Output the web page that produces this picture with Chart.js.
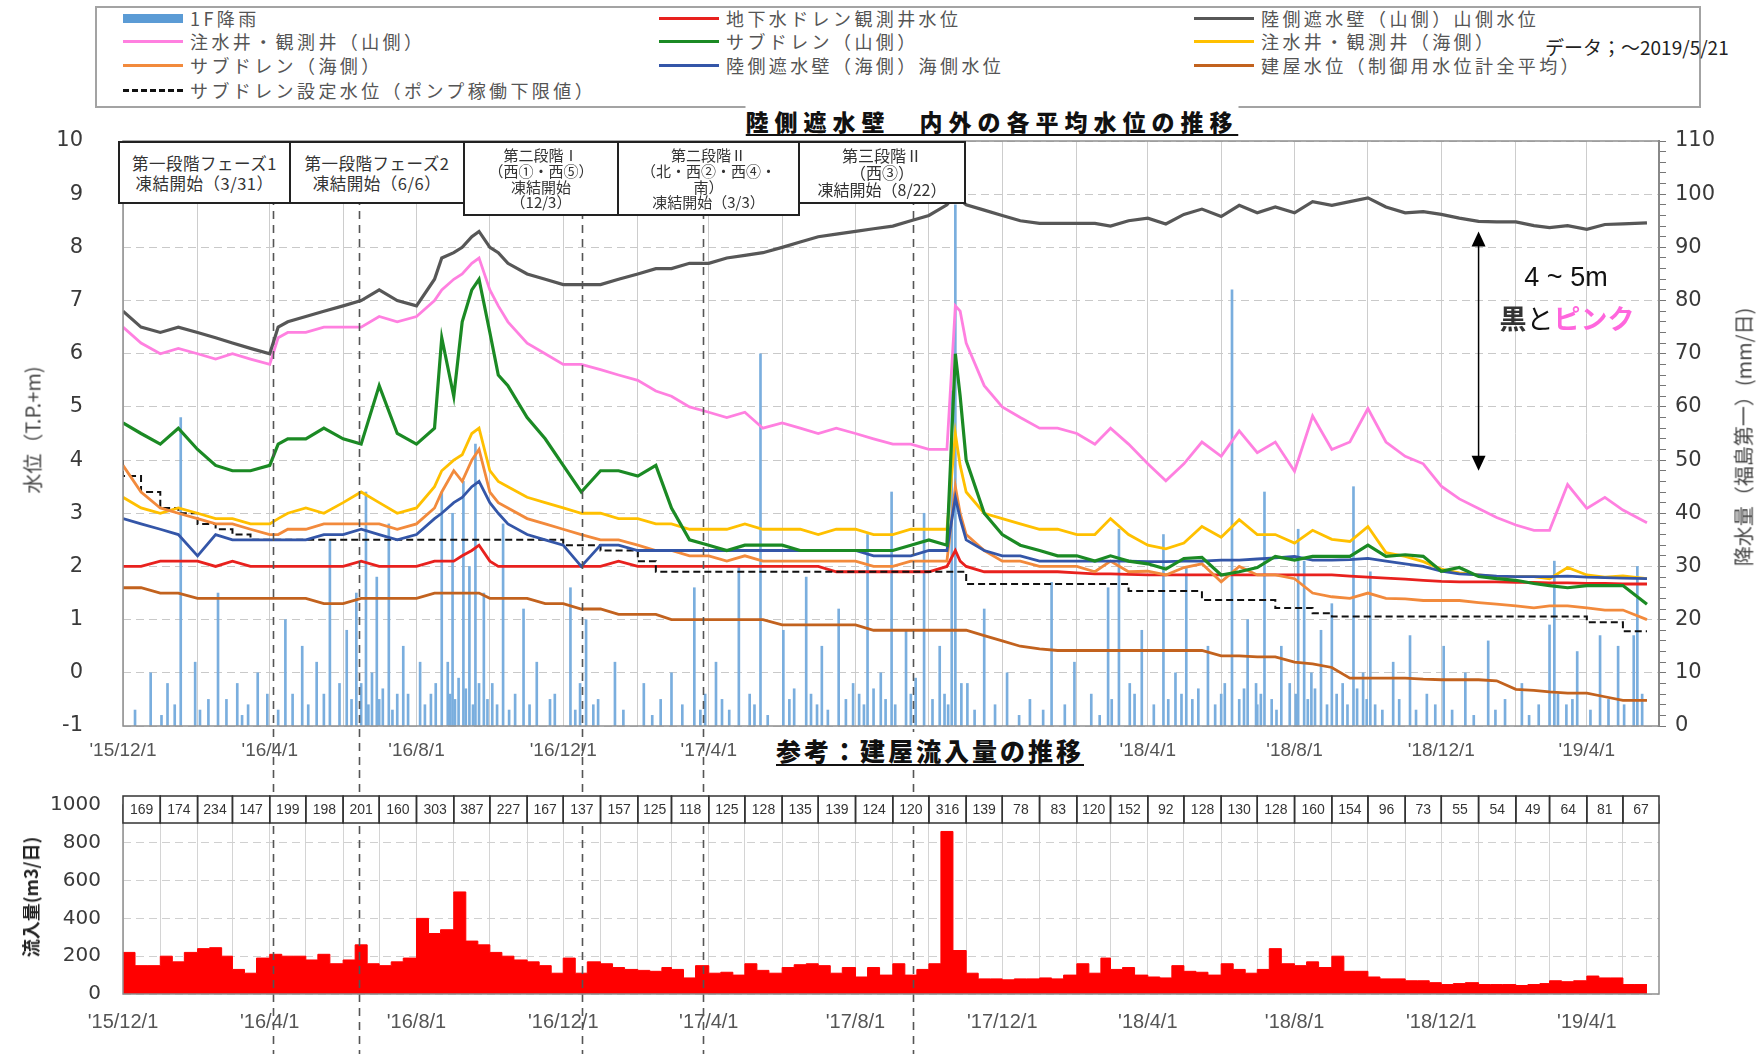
<!DOCTYPE html>
<html lang="ja">
<head>
<meta charset="utf-8">
<title>陸側遮水壁 内外の各平均水位の推移</title>
<script src="https://cdn.jsdelivr.net/npm/chart.js@4.4.1/dist/chart.umd.min.js"></script>
<style>
  html, body { margin: 0; padding: 0; background: #fff; }
  body { font-family: "Noto Sans CJK JP", "Noto Sans", sans-serif; color: #222; }
  #page { position: relative; width: 1758px; height: 1054px; overflow: hidden; }
  canvas { position: absolute; left: 0; }
  #levelChart { top: 130px; }
  #inflowChart { top: 770px; }
  #legendBox { position: absolute; left: 95px; top: 6px; width: 1602px; height: 98px; border: 2px solid #a3a3a3; }
  .lg { position: absolute; height: 24px; display: flex; align-items: center; font-size: 18px; letter-spacing: 3.4px; color: #555; white-space: nowrap; }
  .lg i { display: inline-block; width: 60px; height: 0; border-top: 3.5px solid; margin-right: 7px; }
  .lg i.rain { height: 9px; border: none; }
  .lg i.dash { border-top-style: dashed; border-top-width: 3px; }
  .asof { position: absolute; left: 1545px; top: 33px; font-size: 19px; color: #222; white-space: nowrap; }
  .title { position: absolute; transform: translateX(-50%); font-weight: 900; white-space: nowrap; color: #111;
           text-decoration: underline; text-decoration-thickness: 2px; text-underline-offset: 3px; background: #fff; }
  .phase { position: absolute; box-sizing: border-box; border: 2px solid #222; background: #fff; display: flex;
           align-items: center; justify-content: center; text-align: center; color: #333; overflow: hidden; white-space: nowrap; }
  .phase.two { font-size: 16.5px; line-height: 20px; letter-spacing: 0.5px; }
  .phase.many { font-size: 15px; line-height: 15.7px; }
  .vtitle { position: absolute; transform: translate(-50%, -50%) rotate(-90deg); white-space: nowrap; color: #444; }
  .note { position: absolute; transform: translateX(-50%); white-space: nowrap; font-size: 27px; color: #111; }
</style>
</head>
<body>
<div id="page">
  <div id="legendBox"></div>
  <div id="legend"></div>
  <div class="asof">データ；～2019/5/21</div>

  <canvas id="levelChart" width="1758" height="640"></canvas>
  <canvas id="inflowChart" width="1758" height="284"></canvas>

  <div class="title" style="left:992px;top:104px;font-size:23px;letter-spacing:6px;">陸側遮水壁　内外の各平均水位の推移</div>
  <div class="title" style="left:930px;top:732px;font-size:25px;letter-spacing:3px;padding:0 6px;">参考：建屋流入量の推移</div>

  <div class="phase two" style="left:118px;top:141px;width:173px;height:63px;"><div>第一段階フェーズ1<br>凍結開始（3/31）</div></div>
  <div class="phase two" style="left:289px;top:141px;width:176px;height:63px;"><div>第一段階フェーズ2<br>凍結開始（6/6）</div></div>
  <div class="phase many" style="left:463px;top:141px;width:156px;height:75px;"><div>第二段階Ⅰ<br>（西①・西⑤）<br>凍結開始<br>（12/3）</div></div>
  <div class="phase many" style="left:617px;top:141px;width:183px;height:75px;"><div>第二段階Ⅱ<br>（北・西②・西④・<br>南）<br>凍結開始（3/3）</div></div>
  <div class="phase many" style="left:798px;top:141px;width:168px;height:63px;font-size:16px;line-height:17px;"><div>第三段階Ⅱ<br>（西③）<br>凍結開始（8/22）</div></div>

  <div class="vtitle" style="left:32px;top:430px;font-size:20px;">水位（T.P.+m)</div>
  <div class="vtitle" style="left:1743px;top:437px;font-size:20px;">降水量（福島第一）(mm/日)</div>
  <div class="vtitle" style="left:30px;top:897px;font-size:18px;font-weight:bold;color:#222;">流入量(m3/日)</div>

  <div class="note" style="left:1566px;top:262px;font-family:'Liberation Sans',sans-serif;">4 ~ 5m</div>
  <div class="note" style="left:1567px;top:298px;"><b style="color:#333">黒</b>と<b style="color:#ff66dd">ピンク</b></div>
</div>

<script>
// dates of the water level samples (semi-monthly, plus a few around the storms)
const sampleDates = [
  '2015-12-01','2015-12-16',
  '2016-01-01','2016-01-16','2016-02-01','2016-02-16','2016-03-01','2016-03-16',
  '2016-04-01','2016-04-08','2016-04-16','2016-05-01','2016-05-16','2016-06-01','2016-06-16',
  '2016-07-01','2016-07-16','2016-08-01','2016-08-16','2016-08-22','2016-09-01','2016-09-08',
  '2016-09-16','2016-09-22','2016-10-01','2016-10-08','2016-10-16','2016-11-01','2016-11-16',
  '2016-12-01','2016-12-16',
  '2017-01-01','2017-01-16','2017-02-01','2017-02-16','2017-03-01','2017-03-16','2017-04-01',
  '2017-04-16','2017-05-01','2017-05-16','2017-06-01','2017-06-16','2017-07-01','2017-07-16',
  '2017-08-01','2017-08-16','2017-09-01','2017-09-16','2017-10-01','2017-10-16','2017-10-23',
  '2017-10-27','2017-11-01','2017-11-16','2017-12-01','2017-12-16',
  '2018-01-01','2018-01-16','2018-02-01','2018-02-16','2018-03-01','2018-03-16','2018-04-01',
  '2018-04-16','2018-05-01','2018-05-16','2018-06-01','2018-06-16','2018-07-01','2018-07-16',
  '2018-08-01','2018-08-16','2018-09-01','2018-09-16','2018-10-01','2018-10-16','2018-11-01',
  '2018-11-16','2018-12-01','2018-12-16',
  '2019-01-01','2019-01-16','2019-02-01','2019-02-16','2019-03-01','2019-03-16','2019-04-01',
  '2019-04-16','2019-05-01','2019-05-21'
];

// water levels, T.P.+m
const wallMountain = [6.8,6.5,6.4,6.5,6.4,6.3,6.2,6.1,6.0,6.5, 6.6,6.7,6.8,6.9,7.0,7.2,7.0,6.9,7.4,7.8,
  7.9,8.0,8.2,8.3,8.0,7.9,7.7,7.5,7.4,7.3, 7.3,7.3,7.4,7.5,7.6,7.6,7.7,7.7,7.8,7.85,
  7.9,8.0,8.1,8.2,8.25,8.3,8.35,8.4,8.5,8.6, 8.8,9.0,8.9,8.8,8.7,8.6,8.5,8.45,8.45,8.45,
  8.45,8.4,8.5, 8.55,8.44,8.62,8.72,8.58,8.79,8.65,8.76,8.65,8.86,8.79,8.86,8.93,8.76,
  8.65,8.67,8.62,8.55,8.49,8.48,8.48,8.41,8.37,8.41,8.34,8.43,8.44,8.46];
const wellMountain = [6.5,6.2,6.0,6.1,6.0,5.9,6.0,5.9,5.8,6.3, 6.4,6.4,6.5,6.5,6.5,6.7,6.6,6.7,7.0,7.2,
  7.4,7.5,7.7,7.8,7.2,6.9,6.6,6.2,6.0,5.8, 5.8,5.7,5.6,5.5,5.3,5.2,5.0,4.9,4.8,4.9,
  4.6,4.7,4.6,4.5,4.6,4.5,4.4,4.3,4.3,4.2, 4.2,6.9,6.8,6.2,5.4,5.0,4.8,4.6,4.6,4.5,
  4.3,4.6,4.3, 3.93,3.61,3.93,4.34,4.07,4.55,4.14,4.34,3.79,4.83,4.2,4.34,4.97,4.34,
  4.07,3.93,3.51,3.27,3.09,2.92,2.78,2.68,2.68,3.54,3.09,3.3,3.06,2.82];
const subdrainMountain = [4.7,4.5,4.3,4.6,4.2,3.9,3.8,3.8,3.9,4.3, 4.4,4.4,4.6,4.4,4.3,5.4,4.5,4.3,4.6,6.3,
  5.2,6.6,7.2,7.4,6.4,5.6,5.4,4.8,4.4,3.9, 3.4,3.8,3.8,3.7,3.9,3.1,2.5,2.4,2.3,2.4,
  2.4,2.4,2.3,2.3,2.3,2.3,2.3,2.3,2.4,2.5, 2.4,6.0,5.2,4.0,3.0,2.6,2.4,2.3,2.2,2.2,
  2.1,2.2,2.1, 2.05,1.95,2.15,2.17,1.84,1.9,1.98,2.19,2.12,2.19,2.19,2.19,2.4,2.19,
  2.22,2.19,1.91,1.98,1.81,1.77,1.74,1.68,1.64,1.6,1.64,1.64,1.64,1.29];
const wellSea = [3.3,3.1,3.0,3.1,3.0,2.9,2.9,2.8,2.8,2.9, 3.0,3.1,3.0,3.2,3.4,3.2,3.0,3.1,3.5,3.8,
  4.0,4.1,4.5,4.6,3.8,3.6,3.5,3.3,3.2,3.1, 3.0,3.0,2.9,2.9,2.8,2.8,2.7,2.7,2.7,2.8,
  2.7,2.7,2.7,2.6,2.7,2.7,2.6,2.6,2.7,2.7, 2.7,4.5,3.9,3.4,3.0,2.9,2.8,2.7,2.7,2.6,
  2.6,2.9,2.6, 2.4,2.33,2.44,2.75,2.55,2.88,2.6,2.6,2.44,2.68,2.51,2.47,2.75,2.26,
  2.19,2.09,1.95,1.88,1.84,1.81,1.81,1.81,1.77,1.98,1.84,1.8,1.82,1.77];
const subdrainSea = [3.9,3.4,3.1,3.0,2.9,2.8,2.8,2.7,2.6,2.6, 2.7,2.7,2.8,2.8,2.8,2.8,2.7,2.8,3.1,3.4,
  3.8,3.6,4.0,4.2,3.4,3.2,3.1,2.9,2.8,2.7, 2.6,2.5,2.5,2.4,2.3,2.3,2.2,2.2,2.1,2.2,
  2.1,2.1,2.1,2.1,2.1,2.1,2.0,2.0,2.1,2.1, 2.1,3.5,3.0,2.6,2.3,2.1,2.1,2.0,2.0,2.0,
  1.9,2.1,1.9, 1.91,1.84,1.98,2.05,1.71,2.0,1.84,1.84,1.77,1.5,1.43,1.4,1.5,1.4,
  1.39,1.36,1.36,1.36,1.32,1.29,1.26,1.22,1.26,1.26,1.22,1.18,1.18,1.0];
const wallSea = [2.9,2.8,2.7,2.6,2.2,2.6,2.5,2.5,2.5,2.5, 2.5,2.5,2.6,2.6,2.7,2.6,2.5,2.6,2.9,3.0,
  3.2,3.3,3.5,3.6,3.2,3.0,2.8,2.6,2.5,2.4, 2.0,2.4,2.4,2.3,2.3,2.3,2.3,2.3,2.3,2.3,
  2.3,2.3,2.3,2.3,2.3,2.3,2.2,2.2,2.2,2.3, 2.3,3.3,2.9,2.5,2.3,2.2,2.2,2.1,2.1,2.1,
  2.1,2.1,2.1, 2.09,2.09,2.1,2.1,2.12,2.12,2.14,2.16,2.19,2.12,2.12,2.13,2.15,2.1,
  2.05,2.0,1.91,1.86,1.84,1.82,1.81,1.81,1.81,1.82,1.8,1.79,1.78,1.77];
const groundDrain = [2.0,2.0,2.1,2.1,2.1,2.0,2.1,2.0,2.0,2.0, 2.0,2.0,2.0,2.0,2.1,2.0,2.0,2.0,2.1,2.1,
  2.1,2.2,2.3,2.4,2.1,2.0,2.0,2.0,2.0,2.0, 2.0,2.0,2.1,2.0,2.0,2.0,2.0,2.0,2.0,2.0,
  2.0,2.0,2.0,2.0,1.9,1.9,1.9,1.9,1.9,1.9, 2.0,2.3,2.1,2.0,1.9,1.9,1.9,1.9,1.9,1.88,
  1.86,1.86,1.85, 1.84,1.84,1.84,1.84,1.84,1.84,1.84,1.84,1.84,1.84,1.84,1.82,1.8,1.78,
  1.76,1.74,1.72,1.71,1.71,1.71,1.7,1.7,1.69,1.69,1.68,1.68,1.67,1.67];
const buildingLevel = [1.6,1.6,1.5,1.5,1.4,1.4,1.4,1.4,1.4,1.4, 1.4,1.4,1.3,1.3,1.4,1.4,1.4,1.4,1.5,1.5,
  1.5,1.5,1.5,1.5,1.4,1.4,1.4,1.4,1.3,1.3, 1.2,1.2,1.1,1.1,1.1,1.0,1.0,1.0,1.0,1.0,
  1.0,0.9,0.9,0.9,0.9,0.9,0.8,0.8,0.8,0.8, 0.8,0.8,0.8,0.8,0.7,0.6,0.5,0.45,0.42,0.42,
  0.42,0.42,0.42, 0.42,0.42,0.42,0.42,0.32,0.32,0.3,0.3,0.2,0.17,0.1,-0.1,-0.1,-0.1,
  -0.1,-0.12,-0.13,-0.13,-0.13,-0.15,-0.31,-0.33,-0.36,-0.38,-0.38,-0.45,-0.52,-0.52];
const subdrainSetting = [4.0,3.7,3.4,3.1,3.0,2.8,2.7,2.6,2.5,2.5, 2.5,2.5,2.5,2.5,2.5,2.5,2.5,2.5,2.5,2.5,
  2.5,2.5,2.5,2.5,2.5,2.5,2.5,2.5,2.5,2.5, 2.4,2.4,2.3,2.3,2.1,1.9,1.9,1.9,1.9,1.9,
  1.9,1.9,1.9,1.9,1.9,1.9,1.9,1.9,1.9,1.9, 1.9,1.9,1.9,1.9,1.67,1.67,1.67,1.67,1.67,1.67,
  1.67,1.67,1.67, 1.54,1.54,1.54,1.54,1.37,1.37,1.37,1.37,1.22,1.22,1.12,1.06,1.06,1.06,
  1.06,1.06,1.06,1.06,1.06,1.06,1.06,1.06,1.06,1.06,1.06,0.95,0.95,0.78];

// daily rainfall at 1F, mm/day (heavier days)
const rainDates = [
  '2015-12-24','2016-01-07','2016-01-18','2016-01-30','2016-02-10','2016-02-18','2016-03-05','2016-03-14',
  '2016-03-22','2016-04-14','2016-04-20','2016-04-28','2016-05-10','2016-05-21','2016-05-29','2016-06-04',
  '2016-06-12','2016-06-20','2016-06-25','2016-06-29','2016-07-04','2016-07-09','2016-07-16','2016-07-21',
  '2016-08-04','2016-08-13','2016-08-22','2016-08-27','2016-08-31','2016-09-05','2016-09-09','2016-09-14',
  '2016-09-19','2016-09-26','2016-10-03','2016-10-12','2016-10-22','2016-10-29','2016-11-09','2016-11-20',
  '2016-12-07','2016-12-15','2016-12-20','2016-12-30','2017-01-13','2017-02-06','2017-02-20','2017-03-01',
  '2017-03-20','2017-03-29','2017-04-07','2017-04-26','2017-05-05','2017-05-14','2017-06-02','2017-06-11',
  '2017-06-21','2017-07-04','2017-07-18','2017-07-30','2017-08-11','2017-08-22','2017-08-31','2017-09-12',
  '2017-09-20','2017-09-27','2017-10-10','2017-10-20','2017-10-23','2017-11-02','2017-11-16','2017-12-05',
  '2017-12-24','2018-01-11','2018-01-30','2018-02-13','2018-02-27','2018-03-08','2018-03-17','2018-03-27',
  '2018-04-14','2018-04-24','2018-05-03','2018-05-21','2018-06-04','2018-06-10','2018-06-23','2018-06-30',
  '2018-07-07','2018-07-21','2018-08-04','2018-08-09','2018-08-15','2018-08-23','2018-09-01','2018-09-10',
  '2018-09-19','2018-09-27','2018-10-03','2018-10-22','2018-11-05','2018-11-19','2018-12-03','2018-12-21',
  '2019-01-09','2019-01-23','2019-02-06','2019-03-01','2019-03-05','2019-03-24','2019-04-12','2019-04-27',
  '2019-05-10','2019-05-13'
];
const rainMm = [
  10, 8, 58, 12, 5, 25, 8, 4,
  10, 20, 6, 15, 12, 35, 8, 18,
  25, 44, 10, 28, 7, 38, 6, 15,
  12, 6, 44, 12, 40, 9, 46, 30,
  53, 25, 8, 38, 6, 22, 12, 5,
  26, 8, 20, 5, 12, 8, 5, 10,
  26, 6, 12, 30, 6, 70, 18, 7,
  28, 15, 22, 8, 36, 10, 44, 18,
  9, 40, 15, 63, 98, 8, 22, 10,
  5, 27, 12, 6, 26, 37, 8, 18,
  36, 10, 30, 15, 8, 82, 20, 8,
  44, 15, 37, 31, 10, 18, 23, 8,
  45, 10, 29, 12, 17, 6, 15, 10,
  16, 5, 8, 19, 31, 14, 17, 15,
  17, 30
];
// light rain days
const lightRainDates = [
  '2015-12-11','2016-01-02','2016-01-13','2016-02-03','2016-02-25','2016-03-09','2016-03-30','2016-04-08',
  '2016-05-03','2016-05-16','2016-06-08','2016-06-16','2016-06-22','2016-07-01','2016-07-12','2016-07-25',
  '2016-08-08','2016-08-17','2016-08-29','2016-09-02','2016-09-11','2016-09-17','2016-09-22','2016-09-29',
  '2016-10-07','2016-10-17','2016-11-03','2016-11-24','2016-12-11','2016-12-26','2017-01-20','2017-02-13',
  '2017-03-10','2017-03-25','2017-04-12','2017-04-18','2017-05-09','2017-05-20','2017-06-07','2017-06-25',
  '2017-06-30','2017-07-09','2017-07-24','2017-08-04','2017-08-08','2017-08-16','2017-08-26','2017-09-03',
  '2017-09-16','2017-10-04','2017-10-14','2017-10-17','2017-10-28','2017-11-08','2017-11-25','2017-12-15',
  '2018-01-04','2018-01-22','2018-02-20','2018-03-02','2018-03-21','2018-04-06','2018-04-18','2018-04-29',
  '2018-05-08','2018-05-13','2018-05-27','2018-06-01','2018-06-16','2018-06-20','2018-07-01','2018-07-04',
  '2018-07-13','2018-07-17','2018-07-28','2018-08-02','2018-08-12','2018-08-18','2018-08-28','2018-09-05',
  '2018-09-14','2018-09-22','2018-09-30','2018-10-07','2018-10-13','2018-10-27','2018-11-10','2018-11-26',
  '2018-12-10','2018-12-28','2019-01-15','2019-02-12','2019-02-20','2019-03-08','2019-03-15','2019-03-20',
  '2019-04-04','2019-04-19','2019-05-02','2019-05-17'
];
const lightRainMm = [
  3, 2, 4, 3, 5, 2, 6, 3,
  4, 6, 5, 8, 4, 5, 3, 6,
  4, 8, 6, 5, 7, 4, 8, 5,
  4, 3, 4, 6, 3, 4, 3, 2,
  4, 3, 5, 3, 4, 2, 5, 6,
  4, 3, 5, 6, 4, 7, 5, 4,
  6, 5, 6, 4, 8, 3, 4, 2,
  3, 4, 2, 5, 6, 4, 5, 6,
  5, 7, 4, 6, 5, 7, 4, 6,
  5, 3, 8, 6, 5, 7, 4, 6,
  4, 7, 5, 4, 3, 5, 3, 4,
  3, 2, 3, 2, 4, 6, 4, 5,
  3, 5, 4, 6
];

// building inflow, m3/day: monthly means for the table row, 10-day means for the area
const inflowMonths = [
  '2015-12','2016-01','2016-02','2016-03','2016-04','2016-05','2016-06','2016-07','2016-08','2016-09',
  '2016-10','2016-11','2016-12','2017-01','2017-02','2017-03','2017-04','2017-05','2017-06','2017-07',
  '2017-08','2017-09','2017-10','2017-11','2017-12','2018-01','2018-02','2018-03','2018-04','2018-05',
  '2018-06','2018-07','2018-08','2018-09','2018-10','2018-11','2018-12','2019-01','2019-02','2019-03',
  '2019-04','2019-05'
];
const monthlyInflow = [169,174,234,147,199,198,201,160,303,387, 227,167,137,157,125,118,125,128,135,139,
  124,120,316,139,78,83,120,152,92,128, 130,128,160,154,96,73,55,54,49,64, 81,67];
const inflow10Day = [
  140,220,150, 150,200,170, 220,240,245, 200,130,110, 190,210,200, 200,180,210, 160,180,260,
  160,150,170, 190,400,320, 340,540,280, 260,220,200, 180,170,150, 110,190,110, 170,160,140,
  130,125,120, 140,130,85, 150,110,115, 100,160,125, 110,140,155, 160,150,110, 140,90,140,
  100,160,100, 130,160,860, 230,110,80, 80,75,80, 80,85,80, 100,160,110, 190,130,140,
  100,90,85, 150,120,115, 100,160,130, 110,130,240, 160,150,170, 140,200,120, 120,90,80,
  80,70,70, 60,50,55, 60,50,50, 50,45,50, 55,70,65, 70,95,85, 85,50
];
const inflowEnd = '2019-05-21';

// axis labels and freeze-start marker lines
const axisLabelDates = ['2015-12-01','2016-04-01','2016-08-01','2016-12-01','2017-04-01','2017-08-01',
  '2017-12-01','2018-04-01','2018-08-01','2018-12-01','2019-04-01'];
const freezeLineDates = ['2016-04-04','2016-06-14','2016-12-17','2017-03-27','2017-09-18'];
const gapArrow = { date: '2019-01-01', top: 8.3, bottom: 3.8 };
const xEndDate = '2019-05-31';

// ---- helpers ----
const BASE = Date.UTC(2015, 11, 1);
function dayOf(s) {
  const p = s.split('-').map(Number);
  return (Date.UTC(p[0], p[1] - 1, p[2] || 1) - BASE) / 86400000;
}
function shortLabel(s) {
  const p = s.split('-').map(Number);
  return "'" + String(p[0]).slice(2) + '/' + p[1] + '/' + p[2];
}
const sampleDays = sampleDates.map(dayOf);
const xMax = dayOf(xEndDate);
const labelByDay = {};
axisLabelDates.forEach(s => { labelByDay[dayOf(s)] = shortLabel(s); });
const monthDays = inflowMonths.map(m => dayOf(m + '-01'));
const freezeDays = freezeLineDates.map(dayOf);

const rainPoints = rainDates.map((d, i) => ({ x: dayOf(d), y: rainMm[i] }))
  .concat(lightRainDates.map((d, i) => ({ x: dayOf(d), y: lightRainMm[i] })))
  .sort((a, b) => a.x - b.x);

Chart.defaults.font.family = "'DejaVu Sans', sans-serif";

// fixed axis box sizes; tick padding must not leak into the vertical layout
function fixWidth(w) {
  return s => { s.width = w; s.paddingTop = 0; s.paddingBottom = 0; };
}
function fixHeight(h) {
  return s => { s.height = h; s.paddingLeft = 0; s.paddingRight = 0; };
}

function levelSeries(label, values, color, extra) {
  return Object.assign({
    type: 'line',
    label: label,
    data: values.map((v, i) => ({ x: sampleDays[i], y: v })),
    borderColor: color,
    backgroundColor: color,
    borderWidth: 2.8,
    pointRadius: 0,
    tension: 0,
    fill: false,
    yAxisID: 'y'
  }, extra || {});
}

const COLORS = {
  rain: '#5b9bd5', drain: '#e8211e', wallMountain: '#575757', wellMountain: '#ff80e0',
  subMountain: '#1b8a24', wellSea: '#ffc000', subSea: '#f28a3c', wallSea: '#3456a8',
  building: '#c2621e', setting: '#111111'
};

const levelDatasets = [
  { type: 'bar', label: '1F降雨', yAxisID: 'yRain', order: 20,
    data: rainPoints, backgroundColor: '#7aaede', barThickness: 2, grouped: false },
  levelSeries('地下水ドレン観測井水位', groundDrain, COLORS.drain, { order: 8 }),
  levelSeries('陸側遮水壁（山側）山側水位', wallMountain, COLORS.wallMountain, { order: 1, borderWidth: 3.2 }),
  levelSeries('注水井・観測井（山側）', wellMountain, COLORS.wellMountain, { order: 3 }),
  levelSeries('サブドレン（山側）', subdrainMountain, COLORS.subMountain, { order: 2, borderWidth: 3.2 }),
  levelSeries('注水井・観測井（海側）', wellSea, COLORS.wellSea, { order: 6 }),
  levelSeries('サブドレン（海側）', subdrainSea, COLORS.subSea, { order: 5 }),
  levelSeries('陸側遮水壁（海側）海側水位', wallSea, COLORS.wallSea, { order: 4 }),
  levelSeries('建屋水位（制御用水位計全平均）', buildingLevel, COLORS.building, { order: 9 }),
  levelSeries('サブドレン設定水位（ポンプ稼働下限値）', subdrainSetting, COLORS.setting,
    { order: 7, borderWidth: 2, borderDash: [7, 4], stepped: 'after' })
];

// legend: three columns, four rows
const legendCols = [123, 659, 1194];
const legendRows = [18, 41, 65, 90];
const legendSlots = [
  ['1F降雨', 0, 0], ['地下水ドレン観測井水位', 1, 0], ['陸側遮水壁（山側）山側水位', 2, 0],
  ['注水井・観測井（山側）', 0, 1], ['サブドレン（山側）', 1, 1], ['注水井・観測井（海側）', 2, 1],
  ['サブドレン（海側）', 0, 2], ['陸側遮水壁（海側）海側水位', 1, 2], ['建屋水位（制御用水位計全平均）', 2, 2],
  ['サブドレン設定水位（ポンプ稼働下限値）', 0, 3]
];
const legendEl = document.getElementById('legend');
legendSlots.forEach(([label, c, r]) => {
  const ds = levelDatasets.find(d => d.label === label);
  const item = document.createElement('div');
  item.className = 'lg';
  item.style.left = legendCols[c] + 'px';
  item.style.top = (legendRows[r] - 12) + 'px';
  const sw = document.createElement('i');
  if (ds.type === 'bar') { sw.className = 'rain'; sw.style.background = COLORS.rain; }
  else {
    sw.style.borderTopColor = ds.borderColor;
    if (ds.borderDash) sw.className = 'dash';
  }
  item.appendChild(sw);
  item.appendChild(document.createTextNode(label));
  legendEl.appendChild(item);
});

// dashed marker lines, frame and the 4~5m arrow
function drawFreezeLines(chart, y1, y2) {
  const ctx = chart.ctx, xs = chart.scales.x;
  ctx.save();
  ctx.strokeStyle = '#555';
  ctx.lineWidth = 1.6;
  ctx.setLineDash([8, 6]);
  freezeDays.forEach(d => {
    const x = Math.round(xs.getPixelForValue(d)) + 0.5;
    ctx.beginPath(); ctx.moveTo(x, y1); ctx.lineTo(x, y2); ctx.stroke();
  });
  ctx.restore();
}
function drawFrame(chart) {
  const a = chart.chartArea, ctx = chart.ctx;
  ctx.save();
  ctx.strokeStyle = '#8e8e8e';
  ctx.lineWidth = 1.5;
  ctx.strokeRect(a.left, a.top, a.right - a.left, a.bottom - a.top);
  ctx.restore();
}

const levelDecor = {
  id: 'levelDecor',
  afterDatasetsDraw(chart) {
    const ctx = chart.ctx, a = chart.chartArea;
    drawFreezeLines(chart, a.top, chart.height);
    drawFrame(chart);
    const x = chart.scales.x.getPixelForValue(dayOf(gapArrow.date));
    const yT = chart.scales.y.getPixelForValue(gapArrow.top);
    const yB = chart.scales.y.getPixelForValue(gapArrow.bottom);
    ctx.save();
    ctx.strokeStyle = '#000'; ctx.fillStyle = '#000'; ctx.lineWidth = 1.5;
    ctx.beginPath(); ctx.moveTo(x, yT + 12); ctx.lineTo(x, yB - 12); ctx.stroke();
    ctx.beginPath(); ctx.moveTo(x, yT); ctx.lineTo(x - 7, yT + 15); ctx.lineTo(x + 7, yT + 15); ctx.closePath(); ctx.fill();
    ctx.beginPath(); ctx.moveTo(x, yB); ctx.lineTo(x - 7, yB - 15); ctx.lineTo(x + 7, yB - 15); ctx.closePath(); ctx.fill();
    ctx.restore();
  }
};

const levelGridDays = monthDays.filter((d, i) => i % 2 === 0);

new Chart(document.getElementById('levelChart'), {
  type: 'line',
  data: { datasets: levelDatasets },
  options: {
    responsive: false,
    animation: false,
    layout: { padding: { top: 11, left: 0, right: 0, bottom: 0 }, autoPadding: false },
    plugins: { legend: { display: false }, tooltip: { enabled: false } },
    scales: {
      x: {
        type: 'linear', min: 0, max: xMax, offset: false,
        afterBuildTicks: s => { s.ticks = levelGridDays.map(v => ({ value: v })); },
        afterFit: fixHeight(44),
        ticks: { autoSkip: false, maxRotation: 0, padding: 13, color: '#555',
                 font: { family: "'Liberation Sans', sans-serif", size: 19 },
                 callback: v => labelByDay[v] || '' },
        grid: { color: '#cdcdcd', lineWidth: 1, drawTicks: false, offset: false },
        border: { display: false }
      },
      y: {
        position: 'left', min: -1, max: 10,
        afterFit: fixWidth(123),
        ticks: { stepSize: 1, padding: 40, color: '#3a3a3a', font: { size: 21 } },
        grid: { color: '#c9c9c9', lineWidth: 1, drawTicks: false },
        border: { display: false, dash: [8, 5] }
      },
      yRain: {
        position: 'right', min: 0, max: 110,
        afterFit: fixWidth(99),
        ticks: { stepSize: 2, autoSkip: false, padding: 9, color: '#3a3a3a', font: { size: 21 },
                 callback: v => (v % 10 === 0 ? String(v) : '') },
        grid: { drawOnChartArea: false, tickLength: 7, color: '#777' },
        border: { color: '#777', width: 2 }
      }
    }
  },
  plugins: [levelDecor]
});

// ---- inflow chart ----
const inflowPoints = inflow10Day.map((v, k) => {
  const m = inflowMonths[Math.floor(k / 3)];
  const day = ['01', '11', '21'][k % 3];
  return { x: dayOf(m + '-' + day), y: v };
});
inflowPoints.push({ x: dayOf(inflowEnd), y: inflow10Day[inflow10Day.length - 1] });

const inflowDecor = {
  id: 'inflowDecor',
  afterDatasetsDraw(chart) {
    const ctx = chart.ctx, a = chart.chartArea, xs = chart.scales.x;
    drawFreezeLines(chart, 0, chart.height);
    drawFrame(chart);
    // monthly mean table along the top
    const top = a.top - 9, h = 27;
    ctx.save();
    ctx.fillStyle = '#fff';
    ctx.fillRect(a.left, top, xs.getPixelForValue(xMax) - a.left, h);
    ctx.strokeStyle = '#333';
    ctx.lineWidth = 1.5;
    ctx.font = "14px 'Liberation Sans Narrow', sans-serif";
    ctx.textAlign = 'center';
    ctx.textBaseline = 'middle';
    monthlyInflow.forEach((v, i) => {
      const x1 = xs.getPixelForValue(monthDays[i]);
      const x2 = xs.getPixelForValue(i + 1 < monthDays.length ? monthDays[i + 1] : xMax);
      ctx.strokeRect(x1, top, x2 - x1, h);
      ctx.fillStyle = '#333';
      ctx.fillText(String(v), (x1 + x2) / 2, top + h / 2 + 1);
    });
    ctx.restore();
  }
};

new Chart(document.getElementById('inflowChart'), {
  type: 'line',
  data: {
    datasets: [{
      label: '建屋流入量',
      data: inflowPoints,
      stepped: 'after',
      fill: 'origin',
      borderColor: '#ff0000',
      backgroundColor: '#ff0000',
      borderWidth: 1,
      pointRadius: 0
    }]
  },
  options: {
    responsive: false,
    animation: false,
    layout: { padding: { top: 35, left: 0, right: 99, bottom: 0 }, autoPadding: false },
    plugins: { legend: { display: false }, tooltip: { enabled: false } },
    scales: {
      x: {
        type: 'linear', min: 0, max: xMax, offset: false,
        afterBuildTicks: s => { s.ticks = monthDays.map(v => ({ value: v })); },
        afterFit: fixHeight(60),
        ticks: { autoSkip: false, maxRotation: 0, padding: 16, color: '#555',
                 font: { family: "'Liberation Sans', sans-serif", size: 20 },
                 callback: v => labelByDay[v] || '' },
        grid: { color: '#d4d4d4', lineWidth: 1, drawTicks: false },
        border: { display: false }
      },
      y: {
        min: 0, max: 1000,
        afterFit: fixWidth(123),
        ticks: { stepSize: 200, padding: 22, color: '#3a3a3a', font: { size: 20 }, callback: v => String(v) },
        grid: { color: '#d0d0d0', lineWidth: 1, drawTicks: false },
        border: { display: false, dash: [8, 5] }
      }
    }
  },
  plugins: [inflowDecor]
});
</script>
</body>
</html>
